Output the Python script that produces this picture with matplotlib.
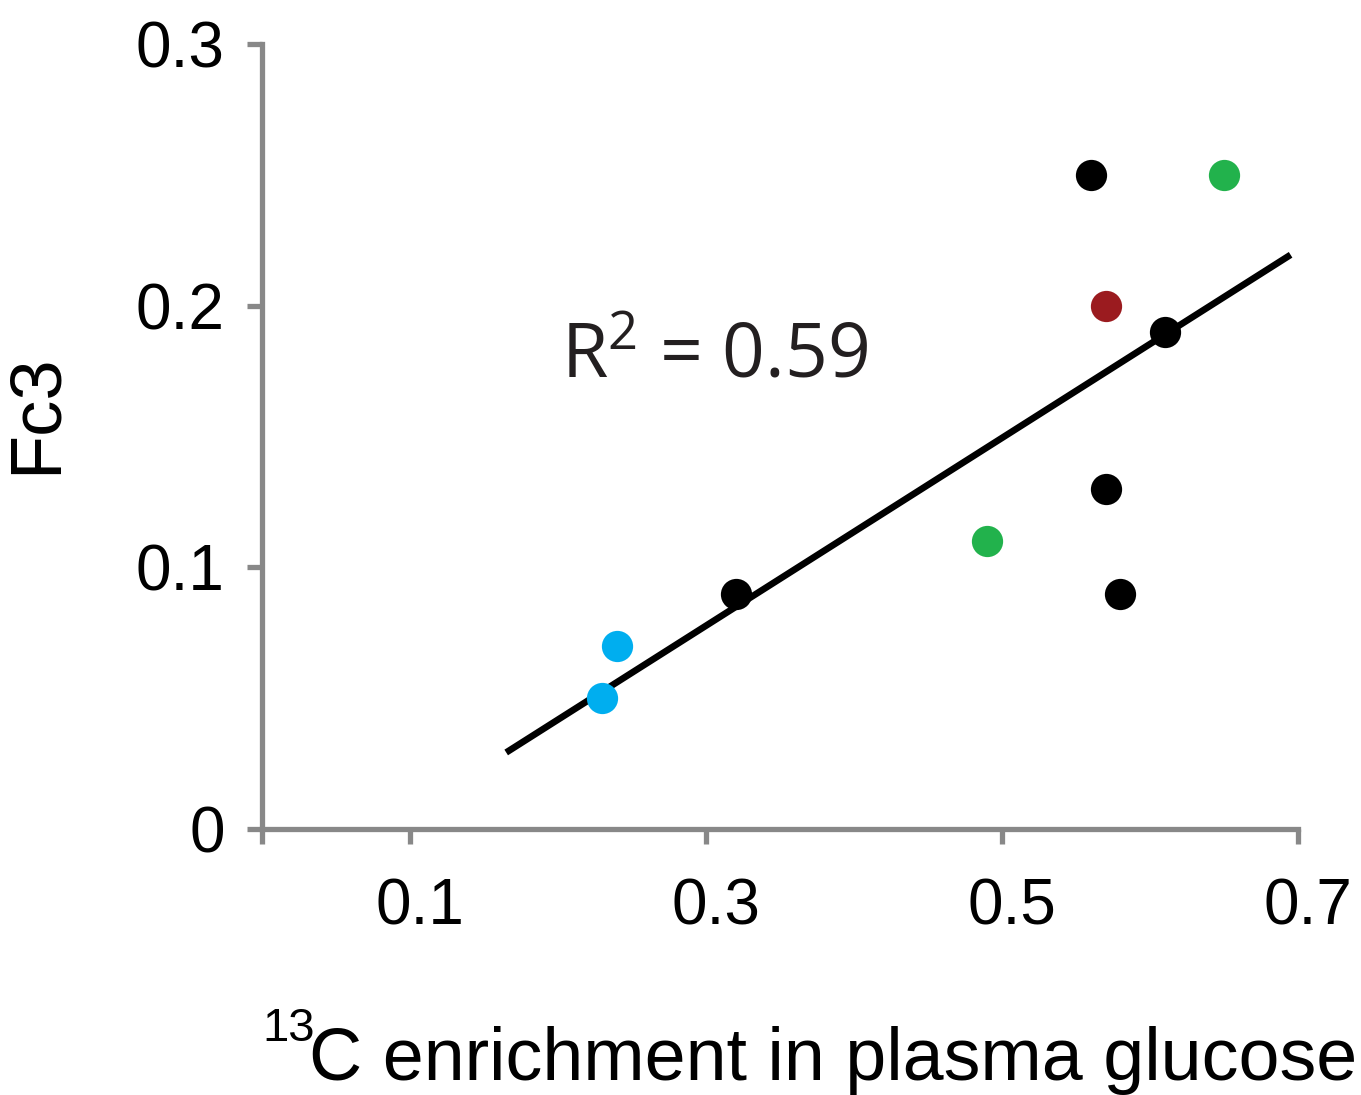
#!/usr/bin/env python3
"""
Fc3 vs 13C enrichment in plasma glucose, with linear fit
"""
import numpy as np
import matplotlib
matplotlib.use("Agg")
import matplotlib.pyplot as plt
from matplotlib.transforms import ScaledTranslation


# values
black_x = [0.56, 0.61, 0.57, 0.58, 0.32]
black_y = [0.25, 0.19, 0.13, 0.09, 0.09]
green_x = [0.65, 0.49]
green_y = [0.25, 0.11]
red_x = [0.57]
red_y = [0.20]
blue_x = [0.24, 0.23]
blue_y = [0.07, 0.05]

fit_range = [0.165, 0.695]
r2_label = "0.59"

x_ticks = [0, 0.1, 0.3, 0.5, 0.7]
x_ticklabels = ["", "0.1", "0.3", "0.5", "0.7"]
y_ticks = [0, 0.1, 0.2, 0.3]
y_ticklabels = ["0", "0.1", "0.2", "0.3"]


def main():
    plt.rcParams["font.family"] = ["Liberation Sans", "DejaVu Sans"]

    fig = plt.figure(figsize=(13.61, 10.95), dpi=100)
    ax = fig.add_axes([262 / 1361, 1 - 829 / 1095, 1036 / 1361, 785 / 1095])

    gray = "#888888"
    ms = 22.5
    groups = [
        (black_x, black_y, "#000000"),
        (green_x, green_y, "#22b24c"),
        (red_x, red_y, "#9b1b1f"),
        (blue_x, blue_y, "#00aeef"),
    ]

    # regression over all points
    all_x = np.concatenate([np.array(g[0]) for g in groups])
    all_y = np.concatenate([np.array(g[1]) for g in groups])
    slope, icpt = np.polyfit(all_x, all_y, 1)
    lx = np.array(fit_range)
    ax.plot(lx, slope * lx + icpt, color="black", lw=4.8, zorder=2,
            solid_capstyle="butt")

    for gx, gy, col in groups:
        ax.plot(gx, gy, "o", color=col, markersize=ms, markeredgewidth=0,
                zorder=3, clip_on=False)

    ax.text(0.306, 0.180, r"$\mathregular{R^2}$ = " + r2_label,
            fontsize=54, family=["Open Sans", "DejaVu Sans"],
            color="#231f20", ha="center", va="center")

    ax.set_xlim(0, 0.7)
    ax.set_ylim(0, 0.3)
    ax.set_xticks(x_ticks)
    ax.set_xticklabels(x_ticklabels)
    ax.set_yticks(y_ticks)
    ax.set_yticklabels(y_ticklabels)

    for s in ["top", "right"]:
        ax.spines[s].set_visible(False)
    for s in ["left", "bottom"]:
        ax.spines[s].set_color(gray)
        ax.spines[s].set_linewidth(3.8)
        ax.spines[s].set_capstyle("projecting")
    ax.tick_params(axis="both", direction="out", length=11, width=3.8,
                   color=gray, labelsize=46)
    ax.tick_params(axis="x", pad=24)
    ax.tick_params(axis="y", pad=16)

    # labels sit a bit right of their ticks in the original
    off = ScaledTranslation(10 / 100, 0, fig.dpi_scale_trans)
    for lab in ax.get_xticklabels():
        lab.set_transform(lab.get_transform() + off)

    # x label: small superscript 13 then the text
    fig.text(262 / 1361, 1 - 1007 / 1095, "13", fontsize=34,
             ha="left", va="top")
    fig.text(309 / 1361, 1 - 1080 / 1095, "C enrichment in plasma glucose",
             fontsize=53, ha="left", va="baseline")
    fig.text(37 / 1361, 1 - 414 / 1095, "Fc3", fontsize=52, rotation=90,
             ha="center", va="center")

    fig.savefig("out.png", dpi=100)


if __name__ == '__main__':
    main()
